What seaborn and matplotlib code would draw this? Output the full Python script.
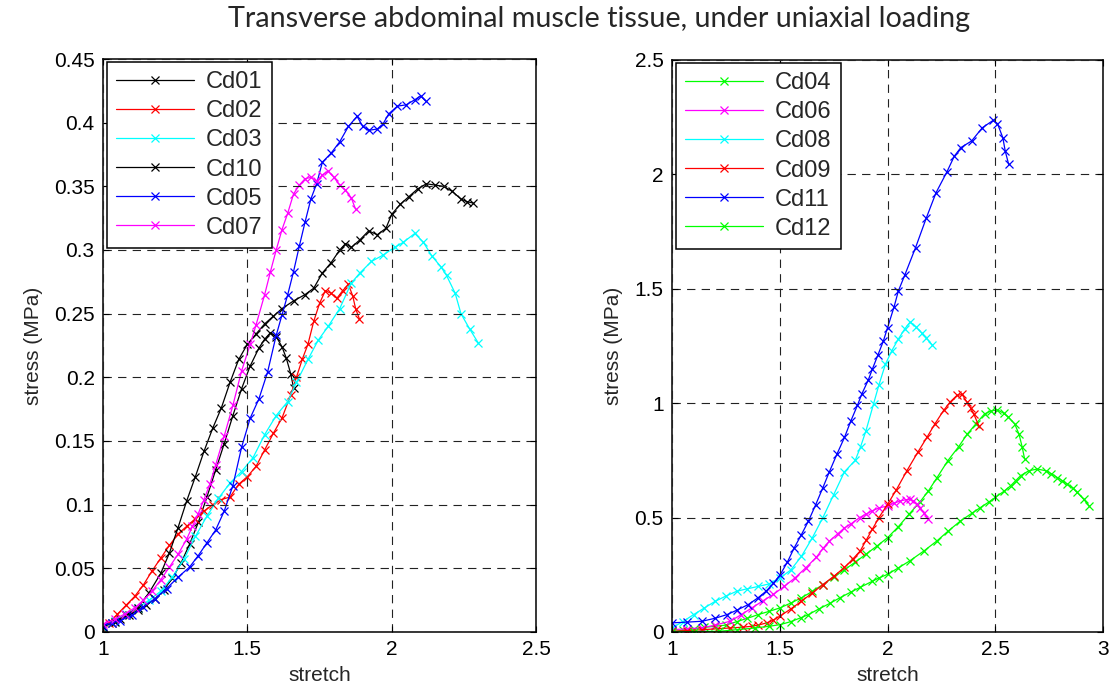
import numpy as np
import pandas as pd
import matplotlib
matplotlib.use("Agg")
import matplotlib.pyplot as plt
import seaborn as sns

# ---------------- left panel specimens ----------------
cd01_x = [1.00, 1.03, 1.06, 1.09, 1.12, 1.15, 1.18, 1.21, 1.24, 1.27, 1.30, 1.33, 1.36,
          1.39, 1.42, 1.45, 1.48, 1.51, 1.54, 1.56, 1.58, 1.60, 1.62, 1.635, 1.65, 1.66]
cd01_y = [0.004, 0.007, 0.010, 0.013, 0.017, 0.021, 0.026, 0.033, 0.042, 0.054, 0.069, 0.086, 0.106,
          0.127, 0.148, 0.170, 0.191, 0.209, 0.223, 0.230, 0.235, 0.232, 0.224, 0.215, 0.203, 0.192]

cd02_x = [1.00, 1.02, 1.05, 1.08, 1.11, 1.14, 1.17, 1.20, 1.23, 1.26, 1.29, 1.32, 1.35, 1.38,
          1.41, 1.44, 1.47, 1.50, 1.53, 1.56, 1.59, 1.62, 1.65, 1.67, 1.69, 1.71, 1.73, 1.75,
          1.77, 1.79, 1.81, 1.83, 1.85, 1.865, 1.875, 1.888]
cd02_y = [0.002, 0.007, 0.014, 0.021, 0.028, 0.037, 0.048, 0.058, 0.068, 0.077, 0.083, 0.089, 0.095, 0.100,
          0.104, 0.106, 0.116, 0.122, 0.130, 0.143, 0.156, 0.168, 0.186, 0.200, 0.214, 0.226, 0.244, 0.258,
          0.268, 0.266, 0.262, 0.268, 0.273, 0.264, 0.254, 0.246]

cd03_x = [1.00, 1.04, 1.08, 1.12, 1.16, 1.20, 1.24, 1.28, 1.32, 1.36, 1.40, 1.44, 1.48, 1.52,
          1.56, 1.60, 1.64, 1.67, 1.71, 1.745, 1.78, 1.82, 1.86, 1.89, 1.93, 1.97, 2.01, 2.04,
          2.08, 2.11, 2.14, 2.17, 2.19, 2.22, 2.24, 2.27, 2.30]
cd03_y = [0.003, 0.009, 0.0145, 0.019, 0.025, 0.032, 0.043, 0.057, 0.075, 0.091, 0.105, 0.117, 0.126, 0.137,
          0.155, 0.170, 0.181, 0.196, 0.214, 0.229, 0.240, 0.254, 0.274, 0.282, 0.291, 0.296, 0.302, 0.306,
          0.313, 0.306, 0.295, 0.287, 0.280, 0.266, 0.250, 0.238, 0.227]

cd10_x = [1.00, 1.04, 1.08, 1.12, 1.16, 1.20, 1.23, 1.26, 1.29, 1.32, 1.35, 1.38, 1.41, 1.44,
          1.47, 1.50, 1.53, 1.56, 1.59, 1.62, 1.66, 1.70, 1.73, 1.76, 1.79, 1.82, 1.84, 1.86,
          1.89, 1.92, 1.95, 1.98, 2.00, 2.03, 2.06, 2.09, 2.12, 2.15, 2.18, 2.21, 2.24, 2.26, 2.28]
cd10_y = [0.004, 0.008, 0.013, 0.019, 0.031, 0.046, 0.062, 0.082, 0.103, 0.122, 0.142, 0.160, 0.176, 0.196,
          0.214, 0.226, 0.234, 0.242, 0.248, 0.254, 0.260, 0.265, 0.270, 0.282, 0.290, 0.300, 0.305, 0.302,
          0.308, 0.315, 0.312, 0.317, 0.328, 0.336, 0.342, 0.348, 0.352, 0.351, 0.350, 0.346, 0.340, 0.338, 0.337]

cd05_x = [1.00, 1.03, 1.06, 1.10, 1.14, 1.18, 1.22, 1.26, 1.30, 1.33, 1.36, 1.39, 1.42, 1.45,
          1.48, 1.51, 1.54, 1.57, 1.60, 1.62, 1.64, 1.66, 1.68, 1.70, 1.72, 1.74, 1.76, 1.79,
          1.82, 1.85, 1.88, 1.90, 1.92, 1.95, 1.97, 1.99, 2.02, 2.05, 2.08, 2.10, 2.118]
cd05_y = [0.005, 0.007, 0.009, 0.013, 0.020, 0.026, 0.034, 0.043, 0.051, 0.060, 0.070, 0.080, 0.095, 0.115,
          0.145, 0.168, 0.183, 0.204, 0.233, 0.249, 0.265, 0.283, 0.303, 0.322, 0.340, 0.352, 0.369, 0.376,
          0.385, 0.397, 0.405, 0.397, 0.394, 0.395, 0.399, 0.407, 0.413, 0.414, 0.418, 0.421, 0.417]

cd07_x = [1.00, 1.04, 1.075, 1.11, 1.14, 1.17, 1.20, 1.23, 1.26, 1.29, 1.31, 1.33, 1.35, 1.37,
          1.39, 1.42, 1.45, 1.48, 1.51, 1.53, 1.56, 1.58, 1.60, 1.62, 1.64, 1.66, 1.68, 1.70,
          1.72, 1.74, 1.76, 1.78, 1.80, 1.82, 1.84, 1.86, 1.875]
cd07_y = [0.006, 0.010, 0.014, 0.019, 0.025, 0.032, 0.041, 0.051, 0.061, 0.073, 0.083, 0.093, 0.104, 0.116,
          0.131, 0.154, 0.178, 0.205, 0.226, 0.241, 0.265, 0.283, 0.300, 0.316, 0.329, 0.344, 0.351, 0.356,
          0.357, 0.354, 0.359, 0.362, 0.357, 0.351, 0.347, 0.341, 0.332]

# ---------------- right panel specimens ----------------
cd04_x = [1.00, 1.05, 1.10, 1.15, 1.20, 1.25, 1.30, 1.35, 1.40, 1.45, 1.50, 1.55, 1.60, 1.65,
          1.70, 1.75, 1.80, 1.85, 1.90, 1.95, 2.00, 2.05, 2.10, 2.15, 2.19, 2.23, 2.28, 2.33,
          2.37, 2.41, 2.45, 2.48, 2.51, 2.54, 2.56, 2.59, 2.61, 2.625, 2.636]
cd04_y = [0.000, 0.008, 0.014, 0.020, 0.025, 0.030, 0.045, 0.060, 0.076, 0.090, 0.105, 0.126, 0.149, 0.177,
          0.207, 0.240, 0.272, 0.305, 0.340, 0.375, 0.412, 0.460, 0.515, 0.568, 0.617, 0.675, 0.749, 0.810,
          0.865, 0.910, 0.953, 0.966, 0.971, 0.955, 0.940, 0.909, 0.865, 0.807, 0.756]

cd06_x = [1.00, 1.07, 1.14, 1.20, 1.27, 1.32, 1.37, 1.42, 1.47, 1.52, 1.57, 1.62, 1.67, 1.70,
          1.73, 1.77, 1.80, 1.83, 1.87, 1.90, 1.93, 1.96, 2.00, 2.03, 2.06, 2.085, 2.105, 2.12,
          2.136, 2.15, 2.167, 2.19]
cd06_y = [0.010, 0.014, 0.018, 0.030, 0.047, 0.075, 0.105, 0.135, 0.164, 0.199, 0.236, 0.280, 0.327, 0.365,
          0.397, 0.430, 0.455, 0.472, 0.500, 0.515, 0.530, 0.542, 0.551, 0.563, 0.573, 0.578, 0.580, 0.572,
          0.558, 0.540, 0.522, 0.493]

cd08_x = [1.00, 1.05, 1.10, 1.15, 1.20, 1.25, 1.30, 1.35, 1.40, 1.45, 1.50, 1.55, 1.60, 1.65,
          1.70, 1.75, 1.80, 1.85, 1.875, 1.90, 1.935, 1.96, 1.99, 2.02, 2.05, 2.08, 2.105, 2.13,
          2.16, 2.18, 2.207]
cd08_y = [0.018, 0.045, 0.076, 0.105, 0.134, 0.157, 0.178, 0.189, 0.199, 0.210, 0.236, 0.270, 0.330, 0.410,
          0.500, 0.600, 0.700, 0.750, 0.810, 0.880, 0.997, 1.080, 1.170, 1.230, 1.280, 1.325, 1.355, 1.335,
          1.305, 1.285, 1.255]

cd09_x = [1.00, 1.07, 1.14, 1.21, 1.27, 1.33, 1.37, 1.40, 1.44, 1.47, 1.50, 1.55, 1.60, 1.65,
          1.70, 1.75, 1.80, 1.84, 1.873, 1.90, 1.93, 1.96, 2.00, 2.04, 2.09, 2.14, 2.183, 2.22,
          2.26, 2.29, 2.322, 2.346, 2.369, 2.385, 2.40, 2.423]
cd09_y = [0.003, 0.006, 0.010, 0.014, 0.0175, 0.021, 0.025, 0.030, 0.040, 0.052, 0.069, 0.100, 0.134, 0.170,
          0.207, 0.243, 0.282, 0.320, 0.354, 0.400, 0.450, 0.500, 0.558, 0.620, 0.705, 0.785, 0.851, 0.910,
          0.968, 1.005, 1.034, 1.038, 1.004, 0.980, 0.953, 0.902]

cd11_x = [1.00, 1.07, 1.14, 1.20, 1.255, 1.30, 1.354, 1.40, 1.436, 1.47, 1.502, 1.535, 1.567, 1.60,
          1.633, 1.666, 1.70, 1.73, 1.765, 1.80, 1.83, 1.86, 1.88, 1.91, 1.93, 1.955, 1.98, 2.00,
          2.03, 2.05, 2.08, 2.13, 2.18, 2.225, 2.275, 2.31, 2.34, 2.39, 2.44, 2.49, 2.51, 2.535,
          2.546, 2.562]
cd11_y = [0.040, 0.043, 0.047, 0.060, 0.076, 0.095, 0.120, 0.150, 0.178, 0.212, 0.251, 0.305, 0.368, 0.425,
          0.485, 0.555, 0.631, 0.700, 0.777, 0.850, 0.923, 0.990, 1.039, 1.100, 1.150, 1.210, 1.270, 1.330,
          1.420, 1.490, 1.560, 1.680, 1.810, 1.920, 2.010, 2.080, 2.117, 2.146, 2.204, 2.236, 2.222, 2.160,
          2.102, 2.044]

cd12_x = [1.00, 1.10, 1.22, 1.30, 1.387, 1.45, 1.502, 1.55, 1.60, 1.633, 1.68, 1.732, 1.78, 1.831,
          1.873, 1.93, 1.96, 2.00, 2.05, 2.105, 2.17, 2.229, 2.28, 2.338, 2.39, 2.431, 2.47, 2.50,
          2.54, 2.571, 2.595, 2.617, 2.656, 2.695, 2.733, 2.76, 2.788, 2.81, 2.834, 2.86, 2.88,
          2.91, 2.935]
cd12_y = [0.000, 0.002, 0.003, 0.010, 0.0175, 0.025, 0.032, 0.045, 0.063, 0.076, 0.100, 0.125, 0.150, 0.175,
          0.195, 0.222, 0.236, 0.252, 0.280, 0.312, 0.355, 0.398, 0.440, 0.485, 0.518, 0.544, 0.568, 0.588,
          0.615, 0.639, 0.662, 0.683, 0.705, 0.712, 0.705, 0.692, 0.675, 0.662, 0.646, 0.628, 0.610,
          0.580, 0.551]

left_names = ["Cd01", "Cd02", "Cd03", "Cd10", "Cd05", "Cd07"]
left_colors = ["#000000", "#FF0000", "#00FFFF", "#000000", "#0000FF", "#FF00FF"]
left_series = [(cd01_x, cd01_y), (cd02_x, cd02_y), (cd03_x, cd03_y),
               (cd10_x, cd10_y), (cd05_x, cd05_y), (cd07_x, cd07_y)]

right_names = ["Cd04", "Cd06", "Cd08", "Cd09", "Cd11", "Cd12"]
right_colors = ["#00FF00", "#FF00FF", "#00FFFF", "#FF0000", "#0000FF", "#00FF00"]
right_series = [(cd04_x, cd04_y), (cd06_x, cd06_y), (cd08_x, cd08_y),
                (cd09_x, cd09_y), (cd11_x, cd11_y), (cd12_x, cd12_y)]

left_xticks = [1, 1.5, 2, 2.5]
left_yticks = [0, 0.05, 0.1, 0.15, 0.2, 0.25, 0.3, 0.35, 0.4, 0.45]
right_xticks = [1, 1.5, 2, 2.5, 3]
right_yticks = [0, 0.5, 1, 1.5, 2, 2.5]

sns.set_theme(style="white")
plt.rcParams["font.family"] = ["Liberation Sans", "DejaVu Sans"]
plt.rcParams["lines.scale_dashes"] = False

fig = plt.figure(figsize=(11.16, 6.87), dpi=100)
fig.patch.set_facecolor("white")
ax_l = fig.add_axes([0.0923, 0.0801, 0.388, 0.834])
ax_r = fig.add_axes([0.6022, 0.0801, 0.3862, 0.8326])


def draw_panel(ax, names, colors, series, xlim, ylim, xticks, yticks):
    for name, color, (xs, ys) in zip(names, colors, series):
        df = pd.DataFrame({"stretch": xs, "stress": ys})
        sns.lineplot(data=df, x="stretch", y="stress", ax=ax, color=color,
                     sort=False, estimator=None, label=name, linewidth=0.9,
                     marker="x", markersize=5.5, markeredgewidth=0.9,
                     markeredgecolor=color)
    ax.set_xlim(*xlim)
    ax.set_ylim(*ylim)
    ax.set_xticks(xticks)
    ax.set_yticks(yticks)
    ax.set_xticklabels([f"{t:g}" for t in xticks])
    ax.set_yticklabels([f"{t:g}" for t in yticks])
    ax.grid(True, color="#222222", linestyle=(0, (6, 4.5)), linewidth=0.8)
    ax.set_axisbelow(False)
    for sp in ax.spines.values():
        sp.set_visible(True)
        sp.set_color("black")
        sp.set_linewidth(1.1)
    ax.tick_params(axis="both", which="both", direction="in", length=4, width=0.8,
                   top=True, right=True, bottom=True, left=True,
                   labelsize=15, pad=6, colors="black")
    ax.set_xlabel("stretch", fontsize=15, labelpad=5)
    ax.set_ylabel("stress (MPa)", fontsize=15, labelpad=8)
    leg = ax.legend(loc="upper left", bbox_to_anchor=(0.009, 0.995), borderaxespad=0,
                    fontsize=17, frameon=True, fancybox=False, framealpha=1,
                    edgecolor="black", handlelength=3.3, handletextpad=0.5,
                    labelspacing=0.3, borderpad=0.4)
    leg.get_frame().set_linewidth(1.1)


draw_panel(ax_l, left_names, left_colors, left_series, (1, 2.5), (0, 0.45),
           left_xticks, left_yticks)
draw_panel(ax_r, right_names, right_colors, right_series, (1, 3), (0, 2.5),
           right_xticks, right_yticks)

fig.text(0.537, 0.972, "Transverse abdominal muscle tissue, under uniaxial loading",
         ha="center", va="center", fontsize=20.7, family=["Lato", "DejaVu Sans"])

fig.savefig("out.png", dpi=100, facecolor="white")
